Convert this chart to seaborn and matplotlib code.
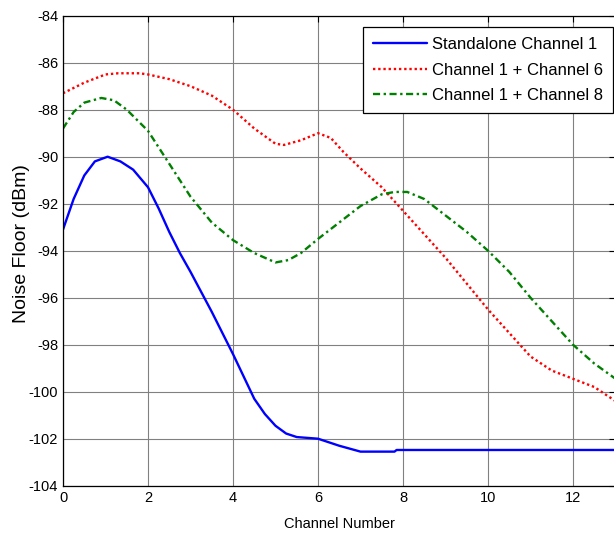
import matplotlib
matplotlib.use("Agg")
import matplotlib.pyplot as plt
import seaborn as sns

# Standalone Channel 1
x_ch1 = [0, 0.25, 0.5, 0.75, 1.05, 1.35, 1.65, 2, 2.25, 2.5, 2.75, 3, 3.5, 4,
         4.5, 4.75, 5, 5.25, 5.5, 6, 6.5, 7, 7.8, 7.85, 13]
y_ch1 = [-93.1, -91.8, -90.8, -90.2, -90.0, -90.2, -90.55, -91.3, -92.2, -93.2,
         -94.1, -94.9, -96.6, -98.4, -100.3, -100.95, -101.45, -101.78, -101.93,
         -102.0, -102.3, -102.55, -102.55, -102.48, -102.48]

# Channel 1 + Channel 6
x_ch6 = [0, 0.5, 1.0, 1.3, 1.8, 2, 2.5, 3, 3.5, 4, 4.5, 5, 5.2, 5.6, 6, 6.3,
         6.6, 7, 7.5, 8, 8.5, 9, 9.5, 10, 10.5, 10.75, 11, 11.5, 12, 12.5, 13]
y_ch6 = [-87.3, -86.85, -86.5, -86.45, -86.45, -86.5, -86.7, -87.0, -87.4,
         -88.0, -88.8, -89.45, -89.5, -89.3, -89.0, -89.2, -89.8, -90.5, -91.3,
         -92.3, -93.3, -94.3, -95.4, -96.5, -97.5, -98.0, -98.5, -99.1, -99.45,
         -99.8, -100.4]

# Channel 1 + Channel 8
x_ch8 = [0, 0.25, 0.5, 0.9, 1.2, 1.5, 2, 2.5, 3, 3.5, 4, 4.5, 5, 5.3, 5.6, 6,
         6.5, 7, 7.5, 7.8, 8.1, 8.5, 9, 9.5, 10, 10.5, 11, 11.5, 12, 12.5, 13]
y_ch8 = [-88.8, -88.1, -87.7, -87.5, -87.6, -88.0, -88.9, -90.3, -91.7, -92.8,
         -93.55, -94.1, -94.5, -94.4, -94.1, -93.5, -92.8, -92.1, -91.6, -91.5,
         -91.5, -91.8, -92.5, -93.2, -94.0, -94.9, -96.0, -97.0, -98.0, -98.8,
         -99.45]

sns.set_style("white")
plt.rcParams['font.family'] = ['Liberation Sans', 'DejaVu Sans']
plt.rcParams['axes.unicode_minus'] = False
plt.rcParams['text.color'] = 'black'
plt.rcParams['axes.labelcolor'] = 'black'

fig = plt.figure(figsize=(6.14, 5.33), dpi=100)
ax = fig.add_axes([63 / 614, 47.3 / 533, (615.5 - 63) / 614, 470 / 533])

sns.lineplot(x=x_ch1, y=y_ch1, ax=ax, color='#0000ff', linewidth=1.7,
             label='Standalone Channel 1')
sns.lineplot(x=x_ch6, y=y_ch6, ax=ax, color='#ff0000', linewidth=1.7,
             linestyle=(0, (1, 1.2)), label='Channel 1 + Channel 6')
sns.lineplot(x=x_ch8, y=y_ch8, ax=ax, color='#008000', linewidth=1.7,
             linestyle=(0, (3, 1.5, 1, 1.5)), label='Channel 1 + Channel 8')

ax.set_xlim(0, 13)
ax.set_ylim(-104, -84)
ax.set_xticks(range(0, 13, 2))
ax.set_yticks(range(-104, -83, 2))
ax.grid(True, color='#808080', linewidth=0.8)
ax.tick_params(direction='in', length=4, top=True, right=True, labelsize=10.5,
               colors='black', width=0.8)
for s in ax.spines.values():
    s.set_color('black')
    s.set_linewidth(0.9)

ax.set_xlabel('Channel Number', fontsize=10.5, labelpad=9)
ax.set_ylabel('Noise Floor (dBm)', fontsize=14)
ax.yaxis.set_label_coords(-0.06, 0.516)

leg = ax.legend(loc='upper right', bbox_to_anchor=(0.9955, 0.976), fontsize=12,
                fancybox=False, edgecolor='black', framealpha=1,
                handlelength=3.2, handletextpad=0.3, borderaxespad=0,
                labelspacing=0.62, borderpad=0.62)
leg.get_frame().set_linewidth(0.9)

fig.savefig('out.png', dpi=100)
